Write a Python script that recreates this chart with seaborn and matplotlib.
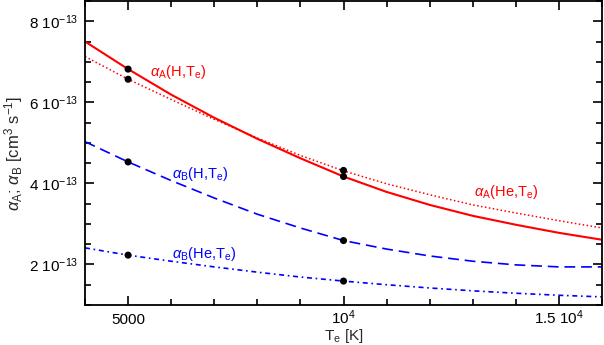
import numpy as np
import pandas as pd
import matplotlib
matplotlib.use("Agg")
import matplotlib.pyplot as plt
import seaborn as sns
from matplotlib.ticker import MultipleLocator, FixedLocator

# ---- data (rates in units of 1e-13 cm^3 s^-1) ----
T = [4000, 5000, 6000, 7000, 8000, 9000, 10000, 11000, 12000, 13000, 14000, 15000, 16000]
alphaA_H = [7.50, 6.82, 6.19, 5.62, 5.10, 4.62, 4.17, 3.79, 3.47, 3.20, 2.98, 2.78, 2.61]
alphaA_He = [7.13, 6.57, 6.07, 5.58, 5.12, 4.69, 4.31, 3.99, 3.72, 3.47, 3.27, 3.08, 2.90]
alphaB_H = [5.03, 4.53, 4.07, 3.64, 3.24, 2.90, 2.59, 2.38, 2.21, 2.08, 1.99, 1.94, 1.94]
alphaB_He = [2.41, 2.23, 2.08, 1.94, 1.81, 1.69, 1.59, 1.50, 1.42, 1.35, 1.29, 1.24, 1.20]

pts_T = [5000, 5000, 5000, 5000, 10000, 10000, 10000, 10000]
pts_alpha = [6.82, 6.57, 4.53, 2.23, 4.32, 4.17, 2.59, 1.59]

yticks = [2, 4, 6, 8]
ytick_labels = ["2 10$^{-13}$", "4 10$^{-13}$", "6 10$^{-13}$", "8 10$^{-13}$"]
xticks = [5000, 10000, 15000]
xtick_labels = ["5000", "10$^{4}$", "1.5 10$^{4}$"]

labels = [r"$\alpha_\mathrm{A}$(H,T$_\mathrm{e}$)", r"$\alpha_\mathrm{A}$(He,T$_\mathrm{e}$)",
          r"$\alpha_\mathrm{B}$(H,T$_\mathrm{e}$)", r"$\alpha_\mathrm{B}$(He,T$_\mathrm{e}$)"]

# ---- style ----
sns.set_style("ticks")
plt.rcParams['font.family'] = ['Liberation Sans', 'DejaVu Sans']
plt.rcParams['mathtext.fontset'] = 'custom'
plt.rcParams['mathtext.rm'] = 'Liberation Sans'
plt.rcParams['mathtext.it'] = 'Liberation Sans:italic'
plt.rcParams['mathtext.bf'] = 'Liberation Sans:bold'

fig = plt.figure(figsize=(6.04, 3.45), dpi=100)
ax = fig.add_axes([85/604, 1 - 305/345, (602 - 85)/604, (305 - 1)/345])

red = "#ff0000"
blue = "#0000ff"

sns.lineplot(x=T, y=alphaA_H, ax=ax, color=red, linewidth=1.5, linestyle="-")
sns.lineplot(x=T, y=alphaA_He, ax=ax, color=red, linewidth=1.1, linestyle=(0, (1, 1.6)))
sns.lineplot(x=T, y=alphaB_H, ax=ax, color=blue, linewidth=1.2, linestyle=(0, (6.5, 3.5)))
sns.lineplot(x=T, y=alphaB_He, ax=ax, color=blue, linewidth=1.2, linestyle=(0, (3, 2.2, 1, 2.2)))
sns.scatterplot(x=pts_T, y=pts_alpha, ax=ax, color="black", s=26, edgecolor="none", zorder=5)

ax.set_xlim(4000, 16000)
ax.set_ylim(1.0, 8.5)

ax.xaxis.set_major_locator(FixedLocator(xticks))
ax.set_xticklabels(xtick_labels)
ax.xaxis.set_minor_locator(MultipleLocator(1000))
ax.yaxis.set_major_locator(FixedLocator(yticks))
ax.set_yticklabels(ytick_labels)
ax.yaxis.set_minor_locator(MultipleLocator(0.5))

ax.tick_params(which="both", direction="in", top=True, right=True, width=1.2, color="black")
ax.tick_params(which="major", length=6.5, labelsize=11, pad=5, colors="black")
ax.tick_params(which="minor", length=4.5)
ax.tick_params(axis="x", which="major", pad=14)
for lab in ax.get_xticklabels():
    lab.set_va("baseline")

for sp in ax.spines.values():
    sp.set_linewidth(1.3)
    sp.set_color("black")

ax.set_xlabel("T$_\\mathrm{e}$ [K]", fontsize=11, labelpad=0)
ax.set_ylabel(r"$\alpha_\mathrm{A}$; $\alpha_\mathrm{B}$ [cm$^{3}$ s$^{-1}$]", fontsize=12, labelpad=3)

ax.text(5510, 6.75, labels[0], color=red, fontsize=10.5, ha="left", va="center")
ax.text(13020, 3.80, labels[1], color=red, fontsize=10.5, ha="left", va="center")
ax.text(6020, 4.23, labels[2], color=blue, fontsize=10.5, ha="left", va="center")
ax.text(6020, 2.25, labels[3], color=blue, fontsize=10.5, ha="left", va="center")

fig.savefig("out.png", dpi=100)
